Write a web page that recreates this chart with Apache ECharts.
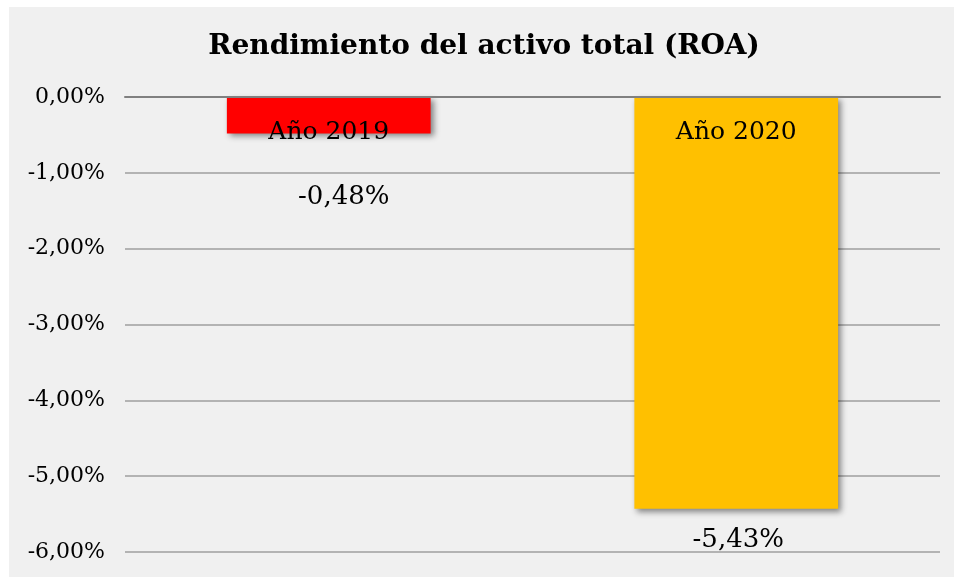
<!DOCTYPE html>
<html>
<head>
<meta charset="utf-8">
<script src="https://cdn.jsdelivr.net/npm/echarts@6/dist/echarts.min.js"></script>
<style>
  html, body { margin: 0; padding: 0; background: #ffffff; }
  #chart { width: 954px; height: 577px; }
</style>
</head>
<body>
<div id="chart"></div>
<script>
// ROA per year, in percent
const categories = ['Año 2019', 'Año 2020'];
const roaValues = [-0.48, -5.43];
const yTicks = [0, -1, -2, -3, -4, -5, -6];
const titleText = 'Rendimiento del activo total (ROA)';

const barColors = ['#ff0000', '#ffc000'];
const fmtPct = v => v.toFixed(2).replace('.', ',') + '%';

// per-bar placement of the value label under each bar
const valueLabelStyle = [
  { distance: 51, offset: [15, 0] },
  { distance: 18, offset: [2, 0] }
];

const chart = echarts.init(document.getElementById('chart'), null, { renderer: 'canvas' });

chart.setOption({
  backgroundColor: '#ffffff',
  animation: false,
  graphic: [
    {
      type: 'rect', z: -10, silent: true,
      shape: { x: 9, y: 7, width: 945, height: 570 },
      style: { fill: '#f0f0f0' }
    },
    {
      type: 'text', z: 10, x: 484, y: 47,
      style: {
        text: titleText,
        fontFamily: 'DejaVu Serif',
        fontWeight: 'bold',
        fontSize: 28,
        fill: '#000000',
        align: 'center',
        verticalAlign: 'middle'
      }
    }
  ],
  grid: { left: 125, right: 14, top: 97, bottom: 25, containLabel: false, outerBoundsMode: 'none' },
  xAxis: {
    type: 'category',
    data: categories,
    position: 'top',
    z: 10,
    axisLine: { onZero: false, lineStyle: { color: '#808080', width: 2 } },
    axisTick: { show: false },
    axisLabel: {
      inside: true,
      margin: 23,
      fontFamily: 'DejaVu Serif',
      fontSize: 25,
      color: '#000000'
    },
    splitLine: { show: false }
  },
  yAxis: {
    type: 'value',
    min: yTicks[yTicks.length - 1],
    max: yTicks[0],
    interval: 1,
    axisLine: { show: false },
    axisTick: { show: false },
    axisLabel: {
      margin: 20,
      fontFamily: 'DejaVu Serif',
      fontSize: 22,
      color: '#000000',
      formatter: fmtPct
    },
    splitLine: { lineStyle: { color: '#b3b3b3', width: 2 } }
  },
  series: [{
    type: 'bar',
    barWidth: '50%',
    data: roaValues.map((v, i) => ({
      value: v,
      itemStyle: { color: barColors[i] },
      label: valueLabelStyle[i]
    })),
    itemStyle: {
      shadowBlur: 6,
      shadowOffsetX: 3,
      shadowOffsetY: 3,
      shadowColor: 'rgba(0,0,0,0.45)'
    },
    label: {
      show: true,
      position: 'bottom',
      fontFamily: 'DejaVu Serif',
      fontSize: 26,
      color: '#000000',
      formatter: p => fmtPct(p.value)
    }
  }]
});
</script>
</body>
</html>
